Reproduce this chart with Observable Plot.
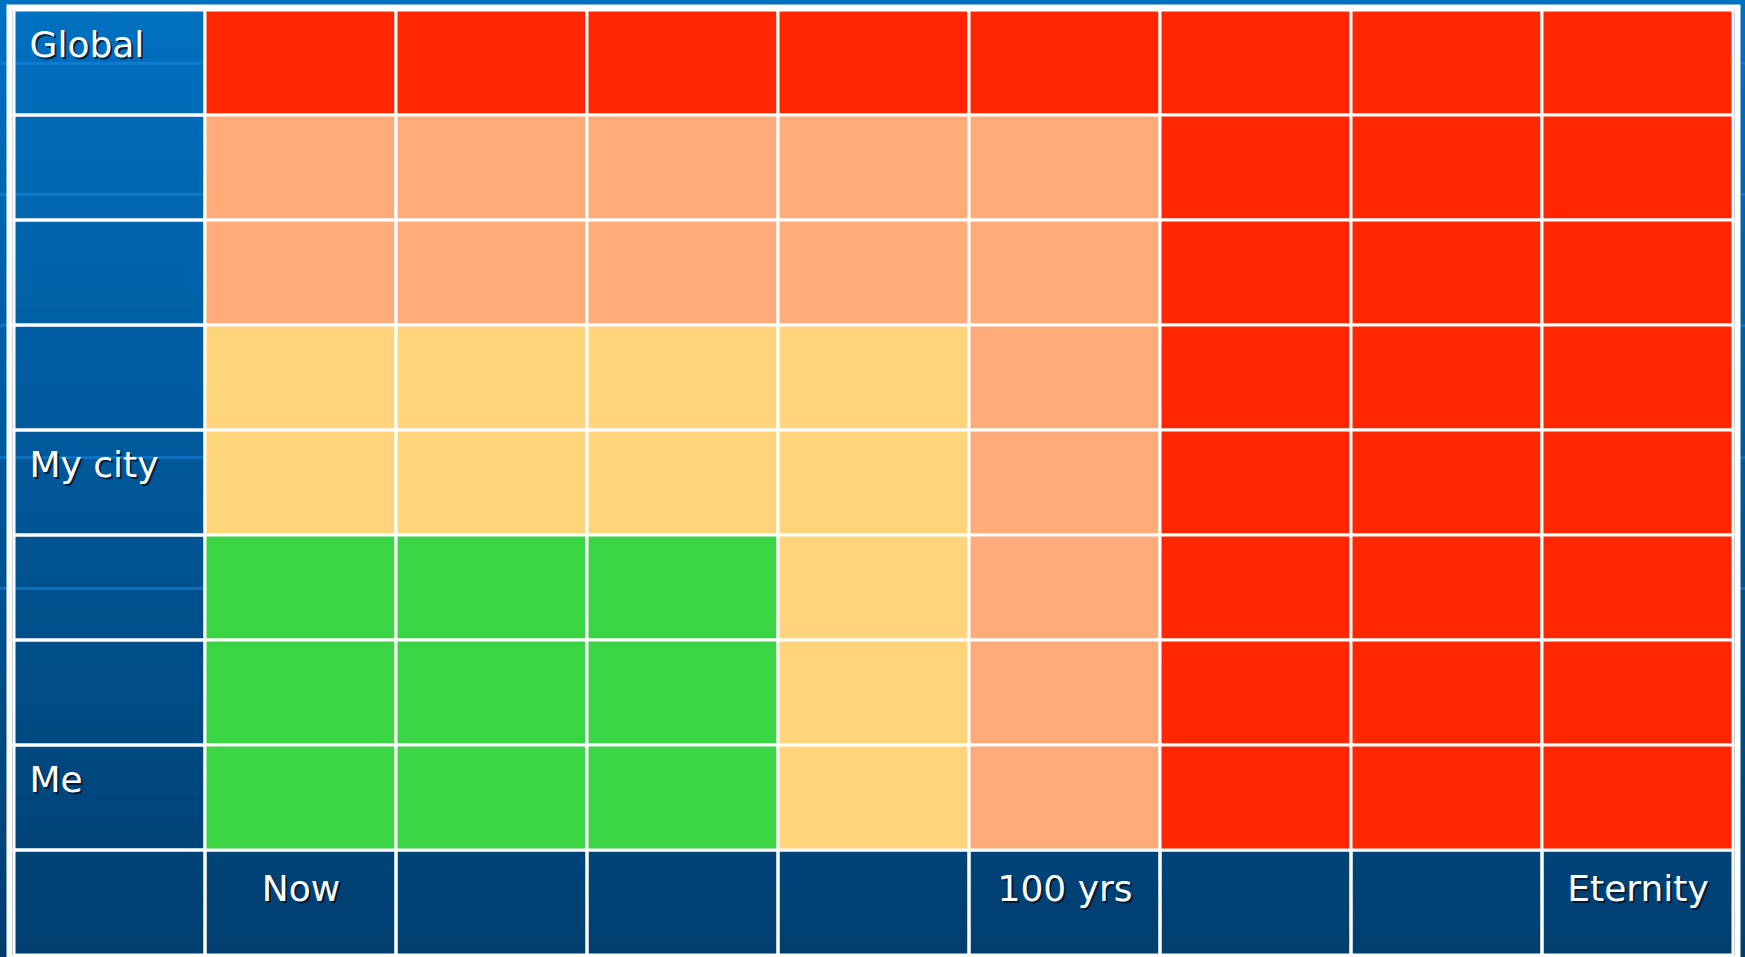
<!DOCTYPE html>
<html>
<head>
<meta charset="utf-8">
<script src="https://cdn.jsdelivr.net/npm/d3@7"></script>
<script src="https://cdn.jsdelivr.net/npm/@observablehq/plot@0.6"></script>
<style>
  html, body { margin: 0; padding: 0; background: #00568f; overflow: hidden; }
  #chart svg { display: block; }
</style>
</head>
<body>
<div id="chart"></div>
<script>
// Time horizon tick labels (columns, left to right)
const timeLabels = ["Now", "", "", "", "100 yrs", "", "", "Eternity"];
// Spatial scale labels (rows, top to bottom)
const scaleLabels = ["Global", "", "", "", "My city", "", "", "Me"];
// Impact levels, lowest to highest
const levels = ["low", "moderate", "high", "severe"];

// Level of each cell, one array per row (top to bottom), columns Now → Eternity
const row1 = ["severe", "severe", "severe", "severe", "severe", "severe", "severe", "severe"];
const row2 = ["high", "high", "high", "high", "high", "severe", "severe", "severe"];
const row3 = ["high", "high", "high", "high", "high", "severe", "severe", "severe"];
const row4 = ["moderate", "moderate", "moderate", "moderate", "high", "severe", "severe", "severe"];
const row5 = ["moderate", "moderate", "moderate", "moderate", "high", "severe", "severe", "severe"];
const row6 = ["low", "low", "low", "moderate", "high", "severe", "severe", "severe"];
const row7 = ["low", "low", "low", "moderate", "high", "severe", "severe", "severe"];
const row8 = ["low", "low", "low", "moderate", "high", "severe", "severe", "severe"];
const grid = [row1, row2, row3, row4, row5, row6, row7, row8];

// Build tables for the library
const cells = [];
grid.forEach((row, r) => row.forEach((level, c) => cells.push({row: r, col: c, level})));

const AXIS = timeLabels.length; // index of the label row; -1 is the label column
const xDomain = [-1, ...timeLabels.map((_, i) => i)];
const yDomain = [...scaleLabels.map((_, i) => i), AXIS];

const labelCells = [];
for (const c of xDomain) for (const r of yDomain) if (c === -1 || r === AXIS) labelCells.push({row: r, col: c});

const rowText = scaleLabels.map((t, i) => ({t, i})).filter(d => d.t);
const colText = timeLabels.map((t, i) => ({t, i})).filter(d => d.t);

const font = {fontFamily: "DejaVu Sans, Verdana, sans-serif", fontSize: 36};
const shadow = {fill: "#03122a", fillOpacity: 0.8};

// decorative slide background: blue gradient with faint globe latitude lines
const lat = "rgba(35,140,235,0.45)";
const band = y => `linear-gradient(to bottom, transparent ${y}px, ${lat} ${y}px, ${lat} ${y + 3}px, transparent ${y + 3}px)`;
const bg = [band(62), band(193), band(324), band(456), band(587),
  "linear-gradient(to bottom, #0071c1, #003e6f)"].join(", ");

const chart = Plot.plot({
  width: 1745,
  height: 957,
  marginLeft: 12,
  marginRight: 11,
  marginTop: 10,
  marginBottom: 2,
  style: {background: bg, color: "white"},
  x: {type: "band", domain: xDomain, padding: 0, axis: null},
  y: {type: "band", domain: yDomain, padding: 0, axis: null},
  color: {domain: levels, range: ["#3ad444", "#ffd47a", "#ffab79", "#ff2600"]},
  marks: [
    Plot.cell(labelCells, {x: "col", y: "row", fill: "none", stroke: "white", strokeWidth: 3, inset: 0}),
    Plot.cell(cells, {x: "col", y: "row", fill: "level", stroke: "white", strokeWidth: 3, inset: 0}),
    Plot.frame({stroke: "white", strokeWidth: 6, inset: -3}),
    // row labels (with drop shadow)
    Plot.text(rowText, {y: "i", text: "t", frameAnchor: "left", textAnchor: "start", dx: 19, dy: -16, ...font, ...shadow}),
    Plot.text(rowText, {y: "i", text: "t", frameAnchor: "left", textAnchor: "start", dx: 17, dy: -18, ...font, fill: "white"}),
    // time labels in the bottom row
    Plot.text(colText, {x: "i", y: () => AXIS, text: "t", textAnchor: "middle", dx: 2, dy: -12, ...font, ...shadow}),
    Plot.text(colText, {x: "i", y: () => AXIS, text: "t", textAnchor: "middle", dx: 0, dy: -14, ...font, fill: "white"})
  ]
});

document.getElementById("chart").appendChild(chart);
</script>
</body>
</html>
